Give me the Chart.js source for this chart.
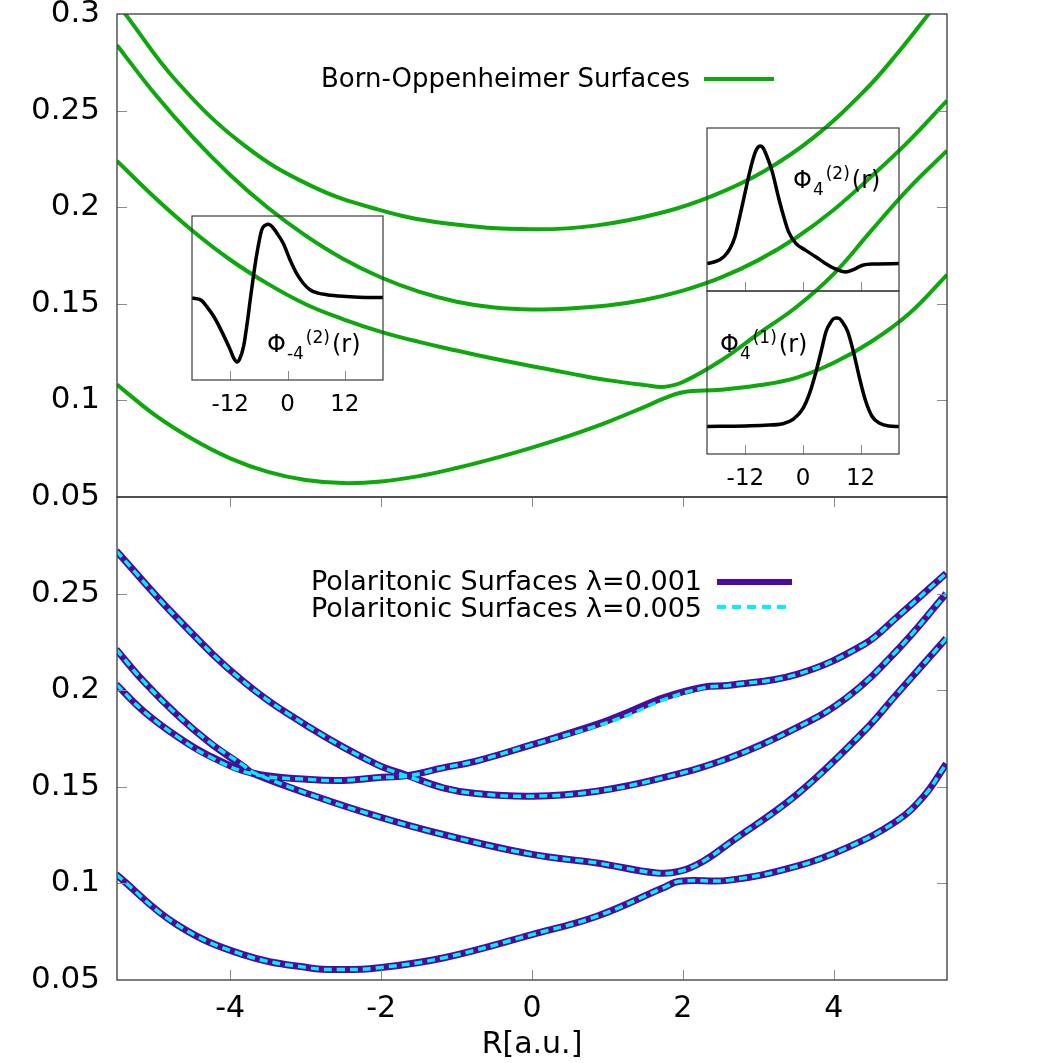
<!DOCTYPE html>
<html>
<head>
<meta charset="utf-8">
<script src="https://cdn.jsdelivr.net/npm/chart.js@4.4.1/dist/chart.umd.min.js"></script>
<style>
body{margin:0;background:#fff}
#wrap{position:relative;width:1063px;height:1063px;background:#fff}
canvas{position:absolute}
</style>
</head>
<body>
<div id="wrap">
  <canvas id="topPanel" width="1063" height="510" style="left:0;top:0"></canvas>
  <canvas id="botPanel" width="1063" height="573" style="left:0;top:490px"></canvas>
  <canvas id="insetL" width="280" height="230" style="left:150px;top:200px"></canvas>
  <canvas id="insetRT" width="250" height="190" style="left:680px;top:110px"></canvas>
  <canvas id="insetRB" width="250" height="225" style="left:680px;top:280px"></canvas>
</div>
<script>

/* =========================================
   DATA
========================================= */

const xTicks      = [-4,-2,0,2,4];
const yTicksTop   = [0.05,0.1,0.15,0.2,0.25,0.3];
const yTicksBot   = [0.05,0.1,0.15,0.2,0.25];
const insetTicks  = [-12,0,12];

// Born-Oppenheimer surfaces (R in a.u.)
const rBO3 = [-5.5,-5.4,-4.71,-3.83,-2.94,-2.06,-1.18,0,0.86,1.74,2.40,3.07,3.73,4.40,4.83,5.27,5.5];
const bo3  = [0.3055,0.3005,0.2652,0.2325,0.2113,0.1990,0.1918,0.1886,0.1906,0.1974,0.2060,0.2185,0.2360,0.2600,0.2790,0.3006,0.3120];

const rBO2 = [-5.5,-5,-4.5,-4,-3.5,-3,-2.5,-2,-1.5,-1,-0.5,0,0.5,1,1.5,2,2.5,3,3.5,4,4.5,5,5.5];
const bo2  = [0.2839,0.2587,0.2364,0.2167,0.1997,0.1853,0.1732,0.1636,0.1563,0.1511,0.1481,0.1471,0.1476,0.1491,0.1521,0.1568,0.1635,0.1726,0.1842,0.1987,0.2160,0.2345,0.2552];

const rBO  = [-5.5,-5,-4.5,-4,-3.5,-3,-2.5,-2,-1.5,-1,-0.5,0,0.5,1,1.5,1.75,2,2.5,3,3.5,4,4.5,5,5.5];
const bo1  = [0.2239,0.2050,0.1878,0.1728,0.1603,0.1498,0.1420,0.1355,0.1303,0.1258,0.1216,0.1177,0.1140,0.1105,0.1079,0.1070,0.1095,0.1205,0.1345,0.1482,0.1655,0.1880,0.2100,0.2292];
const bo0  = [0.1082,0.0925,0.0800,0.0700,0.0630,0.0588,0.0572,0.0580,0.0608,0.0650,0.0700,0.0756,0.0818,0.0888,0.0968,0.1010,0.1042,0.1055,0.1078,0.1117,0.1195,0.1305,0.1450,0.1650];

// polaritonic surfaces, lambda = 0.001
const rP3 = [-5.51,-4.71,-3.83,-2.94,-2.06,-1.66,-1.18,-0.74,0,0.86,1.74,2.62,3.51,4.17,4.83,5.49];
const pa3 = [0.2721,0.2376,0.2047,0.1806,0.1616,0.1560,0.1495,0.1465,0.1451,0.1477,0.1547,0.1650,0.1806,0.1961,0.2203,0.2500];

const rP2 = [-5.51,-5.15,-4.71,-4.27,-3.7,-2.94,-2.5,-2.06,-1.66,-1.18,-0.74,0,0.86,1.3,1.74,2.27,2.62,3.51,4.40,4.83,5.49];
const pa2 = [0.2030,0.1892,0.1762,0.1659,0.1570,0.1538,0.1533,0.1547,0.1558,0.1598,0.1633,0.1718,0.1823,0.1890,0.1961,0.2016,0.2026,0.2082,0.2237,0.2376,0.2605];

const rP1 = [-5.51,-5.15,-4.71,-4.27,-3.83,-3.7,-2.94,-2.06,-1.18,0,0.86,1.65,1.96,2.27,2.62,3.51,4.40,4.83,5.49];
const pa1 = [0.2211,0.2047,0.1875,0.1728,0.1607,0.1570,0.1460,0.1348,0.1253,0.1150,0.1106,0.1054,0.1063,0.1115,0.1210,0.1460,0.1788,0.1978,0.2268];

const rP0 = [-5.51,-4.71,-3.83,-2.94,-2.5,-2.06,-1.18,0,0.86,1.74,1.96,2.62,3.51,4.17,4.83,5.2,5.49];
const pa0 = [0.1046,0.0787,0.0631,0.0562,0.0554,0.0562,0.0614,0.0735,0.0830,0.0977,0.1011,0.1017,0.1089,0.1184,0.1322,0.1455,0.1619];

// polaritonic surfaces, lambda = 0.005
const pb3 = [0.2721,0.2376,0.2047,0.1806,0.1616,0.1556,0.1495,0.1465,0.1451,0.1477,0.1547,0.1650,0.1806,0.1961,0.2203,0.2500];
const pb2 = [0.2030,0.1892,0.1762,0.1655,0.1566,0.1538,0.1533,0.1547,0.1555,0.1598,0.1633,0.1718,0.1815,0.1875,0.1950,0.2012,0.2026,0.2082,0.2237,0.2376,0.2605];
const pb1 = [0.2211,0.2047,0.1875,0.1730,0.1612,0.1575,0.1460,0.1348,0.1253,0.1150,0.1106,0.1054,0.1063,0.1115,0.1210,0.1460,0.1788,0.1978,0.2268];
const pb0 = [0.1046,0.0787,0.0631,0.0562,0.0554,0.0562,0.0614,0.0735,0.0830,0.0977,0.1011,0.1017,0.1089,0.1184,0.1322,0.1455,0.1619];

// insets: electronic wavefunctions vs r
const rPhiL  = [-20,-18,-16.9,-15.5,-14.1,-12,-11.2,-10.6,-10,-9.2,-8.5,-7.8,-7.1,-6.4,-5.4,-4.6,-4.0,-3.2,-2.2,-0.9,0.5,1.9,3.3,4.7,6.4,8.2,11.6,15,20];
const phiL   = [0,-0.03,-0.106,-0.22,-0.37,-0.63,-0.74,-0.78,-0.74,-0.59,-0.33,-0.02,0.28,0.545,0.83,0.89,0.90,0.87,0.79,0.667,0.47,0.30,0.18,0.10,0.06,0.04,0.02,0.01,0.005];

const rPhiRT = [-20,-18,-16.5,-15.3,-14.2,-13.2,-12.2,-11.1,-10,-9.4,-8.9,-8.4,-7.8,-6.8,-6.3,-5.2,-4.2,-3,-1.45,0.5,2.7,4.5,6.5,8.9,10.5,12.4,15,20];
const phiRT  = [-0.005,0.013,0.046,0.10,0.19,0.34,0.50,0.675,0.815,0.857,0.867,0.857,0.815,0.72,0.662,0.50,0.366,0.23,0.143,0.095,0.044,0.0,-0.04,-0.067,-0.05,-0.017,-0.008,-0.005];

const rPhiRB = [-20,-12,-8,-4.2,-2,0,1.4,2.7,3.8,4.8,5.9,6.4,7.0,7.6,8.1,9.3,10.5,11.7,13,14.4,16,17.9,20];
const phiRB  = [-0.004,0.0,0.005,0.016,0.05,0.13,0.245,0.40,0.555,0.70,0.775,0.795,0.80,0.795,0.775,0.70,0.55,0.366,0.19,0.07,0.02,0.0,-0.004];


/* =========================================
   STYLE
========================================= */

const GREEN  = '#0ca80c';
const PURPLE = '#4b0c9e';
const CYAN   = '#00f0ff';

Chart.defaults.font.family = '"DejaVu Sans"';
Chart.defaults.color = '#000';

function pts(xs,ys){
  return xs.map((x,i)=>({x:x,y:ys[i]}));
}

function line(xs,ys,color,width,dash,order,smooth){
  const ds = {
    data:pts(xs,ys),
    borderColor:color,
    borderWidth:width,
    borderDash:dash || [],
    pointRadius:0,
    fill:false,
    borderJoinStyle:'round',
    order:order || 0
  };
  if(smooth){
    ds.tension = 0.4;
  }else{
    ds.cubicInterpolationMode = 'monotone';
  }
  return ds;
}

function fmt(v){
  return String(Number(v.toFixed(2)));
}


/* =========================================
   PLUGINS
========================================= */

const panelDeco = {
  id:'panelDeco',
  afterDraw(chart,args,o){
    const ctx = chart.ctx, a = chart.chartArea;
    const xs = chart.scales.x, ys = chart.scales.y;
    ctx.save();

    // inward tick marks
    ctx.strokeStyle = '#8c8c8c';
    ctx.lineWidth = 1;
    ctx.beginPath();
    o.yTicks.forEach(v=>{
      const y = Math.round(ys.getPixelForValue(v)) + 0.5;
      if(y <= a.top + 2 || y >= a.bottom - 2) return;
      ctx.moveTo(a.left,y);  ctx.lineTo(a.left+10,y);
      ctx.moveTo(a.right,y); ctx.lineTo(a.right-10,y);
    });
    if(o.xMarks){
      xTicks.forEach(v=>{
        const x = Math.round(xs.getPixelForValue(v)) + 0.5;
        ctx.moveTo(x,a.bottom); ctx.lineTo(x,a.bottom-10);
        ctx.moveTo(x,a.top);    ctx.lineTo(x,a.top+10);
      });
    }
    ctx.stroke();

    // frame
    ctx.strokeStyle = '#3a3a3a';
    ctx.lineWidth = 1.3;
    ctx.strokeRect(a.left,a.top,a.right-a.left,a.bottom-a.top);

    // x tick labels + axis title
    ctx.fillStyle = '#000';
    if(o.xLabels){
      ctx.font = '30px "DejaVu Sans"';
      ctx.textAlign = 'center';
      ctx.textBaseline = 'middle';
      xTicks.forEach(v=>{
        ctx.fillText(String(v), xs.getPixelForValue(v), a.bottom+29);
      });
      ctx.fillText('R[a.u.]', (a.left+a.right)/2, a.bottom+65);
    }

    // key
    (o.legend || []).forEach(k=>{
      ctx.font = k.size + 'px "DejaVu Sans"';
      ctx.textAlign = 'right';
      ctx.textBaseline = 'alphabetic';
      ctx.fillStyle = '#000';
      ctx.fillText(k.text,k.tx,k.ty);
      ctx.strokeStyle = k.color;
      ctx.lineWidth = k.width;
      ctx.setLineDash(k.dash || []);
      ctx.beginPath();
      ctx.moveTo(k.x1,k.ly);
      ctx.lineTo(k.x2,k.ly);
      ctx.stroke();
      ctx.setLineDash([]);
    });

    ctx.restore();
  }
};

const insetDeco = {
  id:'insetDeco',
  afterDraw(chart,args,o){
    const ctx = chart.ctx, a = chart.chartArea, xs = chart.scales.x;
    ctx.save();

    ctx.strokeStyle = '#8c8c8c';
    ctx.lineWidth = 1;
    ctx.beginPath();
    insetTicks.forEach(v=>{
      const x = Math.round(xs.getPixelForValue(v)) + 0.5;
      ctx.moveTo(x,a.bottom); ctx.lineTo(x,a.bottom-9);
    });
    ctx.stroke();

    ctx.strokeStyle = '#3a3a3a';
    ctx.lineWidth = 1.2;
    ctx.strokeRect(a.left,a.top,a.right-a.left,a.bottom-a.top);

    ctx.fillStyle = '#000';
    if(o.showLabels){
      ctx.font = '23px "DejaVu Sans"';
      ctx.textAlign = 'center';
      ctx.textBaseline = 'middle';
      insetTicks.forEach(v=>{
        ctx.fillText(String(v), xs.getPixelForValue(v), a.bottom+25);
      });
    }

    // Phi_sub^(sup)(r)
    let x = o.lx;
    ctx.textAlign = 'left';
    ctx.textBaseline = 'alphabetic';
    ctx.font = '24px "DejaVu Sans"';
    ctx.fillText('Φ',x,o.ly);
    x += ctx.measureText('Φ').width + 1;
    ctx.font = '17px "DejaVu Sans"';
    ctx.fillText(o.sub,x,o.ly+7);
    x += ctx.measureText(o.sub).width + 2;
    ctx.fillText(o.sup,x,o.ly-9);
    x += ctx.measureText(o.sup).width + 2;
    ctx.font = '24px "DejaVu Sans"';
    ctx.fillText('(r)',x,o.ly);

    ctx.restore();
  }
};


/* =========================================
   MAIN PANELS
========================================= */

function panelScales(yTicks){
  return {
    x:{
      type:'linear', min:-5.5, max:5.5, display:false
    },
    y:{
      type:'linear', min:0.05, max:0.3,
      afterBuildTicks:s=>{ s.ticks = yTicks.map(v=>({value:v})); },
      afterFit:s=>{ s.width = 117; s.paddingTop = 0; s.paddingBottom = 0; },
      grid:{display:false, drawTicks:false},
      border:{display:false},
      ticks:{
        font:{size:31},
        color:'#000',
        padding:17,
        callback:v=>fmt(v)
      }
    }
  };
}

new Chart(document.getElementById('topPanel'),{
  type:'line',
  data:{
    datasets:[
      line(rBO,bo0,GREEN,4,null,0,true),
      line(rBO,bo1,GREEN,4,null,0,true),
      line(rBO2,bo2,GREEN,4,null,0,true),
      line(rBO3,bo3,GREEN,4,null,0,true)
    ]
  },
  options:{
    responsive:false,
    animation:false,
    layout:{padding:{left:0,top:14,right:116,bottom:13}},
    scales:panelScales(yTicksTop),
    plugins:{
      legend:{display:false},
      tooltip:{enabled:false},
      panelDeco:{
        yTicks:yTicksTop,
        xMarks:false,
        xLabels:false,
        legend:[
          {text:'Born-Oppenheimer Surfaces',size:26,tx:690,ty:87,x1:704,x2:774,ly:79,color:GREEN,width:4}
        ]
      }
    }
  },
  plugins:[panelDeco]
});

new Chart(document.getElementById('botPanel'),{
  type:'line',
  data:{
    datasets:[
      line(rP0,pb0,CYAN,3.5,[8,5],0,true),
      line(rP1,pb1,CYAN,3.5,[8,5],0,true),
      line(rP2,pb2,CYAN,3.5,[8,5],0,true),
      line(rP3,pb3,CYAN,3.5,[8,5],0,true),
      line(rP0,pa0,PURPLE,7,null,1,true),
      line(rP1,pa1,PURPLE,7,null,1,true),
      line(rP2,pa2,PURPLE,7,null,1,true),
      line(rP3,pa3,PURPLE,7,null,1,true)
    ]
  },
  options:{
    responsive:false,
    animation:false,
    layout:{padding:{left:0,top:7,right:116,bottom:83}},
    scales:panelScales(yTicksBot),
    plugins:{
      legend:{display:false},
      tooltip:{enabled:false},
      panelDeco:{
        yTicks:yTicksBot,
        xMarks:true,
        xLabels:true,
        legend:[
          {text:'Polaritonic Surfaces λ=0.001',size:27,tx:702,ty:100,x1:717,x2:792,ly:92,color:PURPLE,width:6},
          {text:'Polaritonic Surfaces λ=0.005',size:27,tx:702,ty:127,x1:717,x2:792,ly:117,color:CYAN,width:4,dash:[9,6]}
        ]
      }
    }
  },
  plugins:[panelDeco]
});


/* =========================================
   INSETS
========================================= */

function inset(id,xs,ys,yMin,yMax,pad,deco){
  return new Chart(document.getElementById(id),{
    type:'line',
    data:{ datasets:[ line(xs,ys,'#000',3.5) ] },
    options:{
      responsive:false,
      animation:false,
      layout:{padding:pad},
      scales:{
        x:{type:'linear',min:-20,max:20,display:false},
        y:{type:'linear',min:yMin,max:yMax,display:false}
      },
      plugins:{
        legend:{display:false},
        tooltip:{enabled:false},
        insetDeco:deco
      }
    },
    plugins:[insetDeco]
  });
}

inset('insetL',rPhiL,phiL,-1,1,
  {left:42,top:16,right:47,bottom:50},
  {showLabels:true,lx:117,ly:152,sub:'-4',sup:'(2)'});

inset('insetRT',rPhiRT,phiRT,-0.208,1,
  {left:27,top:18,right:31,bottom:9},
  {showLabels:false,lx:113,ly:78,sub:'4',sup:'(2)'});

inset('insetRB',rPhiRB,phiRB,-0.208,1,
  {left:27,top:11,right:31,bottom:51},
  {showLabels:true,lx:40,ly:72,sub:'4',sup:'(1)'});

</script>
</body>
</html>
